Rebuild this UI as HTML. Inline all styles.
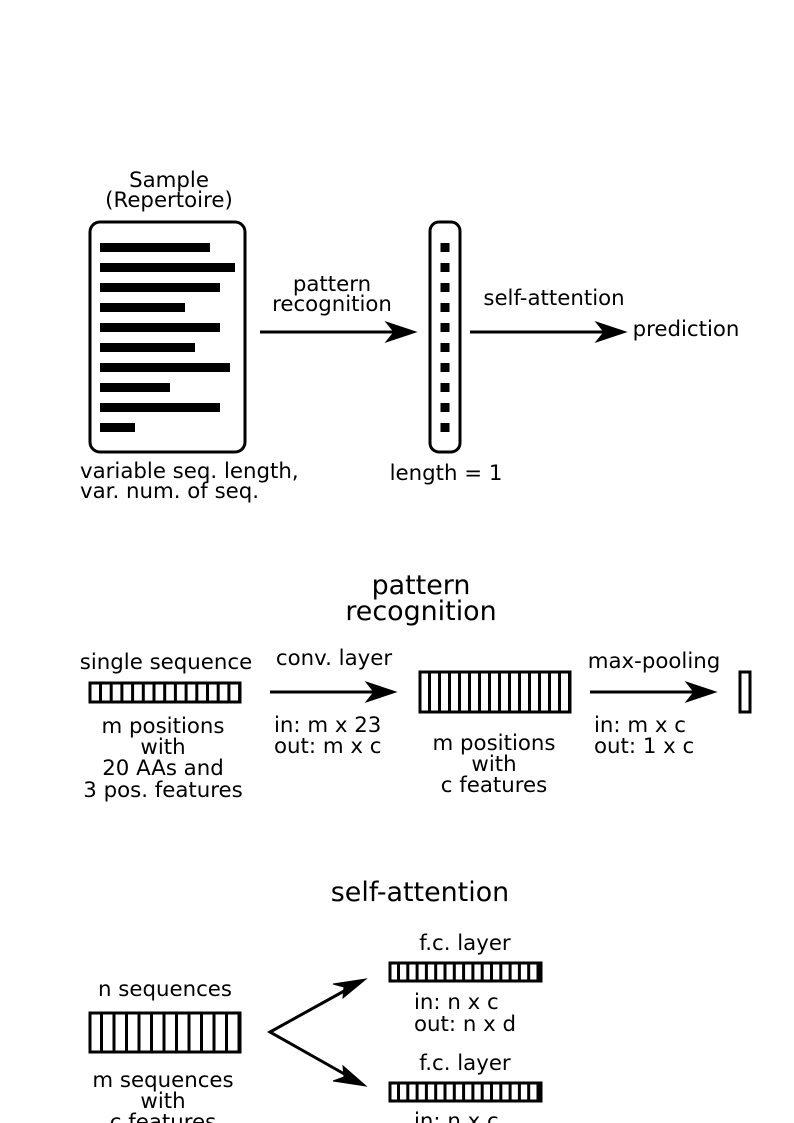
<!DOCTYPE html>
<html><head><style>body{margin:0;background:#fff}svg{display:block}text{font-family:"DejaVu Sans","Liberation Sans",sans-serif;fill:#000}</style></head>
<body>
<svg width="794" height="1123" viewBox="0 0 794 1123" xmlns="http://www.w3.org/2000/svg">
<g font-size="21.3" text-anchor="middle">
<text x="169" y="187">Sample</text>
<text x="169" y="207">(Repertoire)</text>
<text x="332" y="291">pattern</text>
<text x="332" y="311">recognition</text>
<text x="554" y="305">self-attention</text>
<text x="686" y="336">prediction</text>
<text x="446" y="480">length = 1</text>
</g>
<g font-size="21.3">
<text x="80" y="478">variable seq. length,</text>
<text x="80" y="498">var. num. of seq.</text>
</g>
<rect x="90" y="222" width="155" height="230" rx="10" fill="none" stroke="#000" stroke-width="3"/>
<g fill="#000">
<rect x="100" y="243" width="110" height="9"/>
<rect x="100" y="263" width="135" height="9"/>
<rect x="100" y="283" width="120" height="9"/>
<rect x="100" y="303" width="85" height="9"/>
<rect x="100" y="323" width="120" height="9"/>
<rect x="100" y="343" width="95" height="9"/>
<rect x="100" y="363" width="130" height="9"/>
<rect x="100" y="383" width="70" height="9"/>
<rect x="100" y="403" width="120" height="9"/>
<rect x="100" y="423" width="35" height="9"/>
</g>
<rect x="430" y="222" width="30" height="230" rx="9" fill="none" stroke="#000" stroke-width="3"/>
<line x1="445" y1="243" x2="445" y2="433" stroke="#000" stroke-width="9" stroke-dasharray="9 11"/>
<g stroke="#000" stroke-width="3" fill="#000">
<line x1="260" y1="332" x2="405" y2="332"/>
<path d="M416,332 L386,322 L394,332 L386,342 Z" stroke-width="1"/>
<line x1="470" y1="332" x2="615" y2="332"/>
<path d="M626,332 L596,322 L604,332 L596,342 Z" stroke-width="1"/>
</g>
<g font-size="26.9" text-anchor="middle">
<text x="421" y="594">pattern</text>
<text x="421" y="620">recognition</text>
<text x="420" y="901">self-attention</text>
</g>
<g font-size="21.3" text-anchor="middle">
<text x="166" y="669">single sequence</text>
<text x="334" y="665">conv. layer</text>
<text x="654" y="668">max-pooling</text>
<text x="163" y="733">m positions</text>
<text x="163" y="754">with</text>
<text x="163" y="775">20 AAs and</text>
<text x="163" y="797">3 pos. features</text>
<text x="494" y="750">m positions</text>
<text x="494" y="771">with</text>
<text x="494" y="792">c features</text>
<text x="165" y="996">n sequences</text>
<text x="163" y="1087">m sequences</text>
<text x="163" y="1108">with</text>
<text x="163" y="1129">c features</text>
<text x="465" y="950">f.c. layer</text>
<text x="465" y="1070">f.c. layer</text>
</g>
<g font-size="21.3">
<text x="414" y="1009">in: n x c</text>
<text x="414" y="1031">out: n x d</text>
<text x="414" y="1128">in: n x c</text>
<text x="274" y="732">in: m x 23</text>
<text x="274" y="753">out: m x c</text>
<text x="594" y="732">in: m x c</text>
<text x="594" y="753">out: 1 x c</text>
</g>
<g stroke="#000" fill="none">
<rect x="90" y="683" width="150" height="19" stroke-width="3"/>
<line x1="91" y1="692.5" x2="240" y2="692.5" stroke-width="19" stroke-dasharray="3 7.7" stroke-dashoffset="-8"/>
<rect x="420" y="672" width="150" height="40" stroke-width="3"/>
<line x1="421" y1="692" x2="570" y2="692" stroke-width="40" stroke-dasharray="3 7" stroke-dashoffset="-7"/>
<rect x="740" y="672" width="10" height="40" stroke-width="3"/>
<rect x="90" y="1013" width="150" height="39" stroke-width="3"/>
<line x1="91" y1="1032.5" x2="240" y2="1032.5" stroke-width="39" stroke-dasharray="3 9.5" stroke-dashoffset="-9"/>
<rect x="390" y="963" width="151" height="18" stroke-width="3"/>
<line x1="391" y1="972" x2="541" y2="972" stroke-width="18" stroke-dasharray="3 6.3" stroke-dashoffset="-6"/>
<rect x="390" y="1083" width="151" height="18" stroke-width="3"/>
<line x1="391" y1="1092" x2="541" y2="1092" stroke-width="18" stroke-dasharray="3 6.3" stroke-dashoffset="-6"/>
</g>
<g stroke="#000" stroke-width="3" fill="#000">
<line x1="270" y1="692" x2="385" y2="692"/>
<path d="M396,692 L366,682 L374,692 L366,702 Z" stroke-width="1"/>
<line x1="590" y1="692" x2="705" y2="692"/>
<path d="M716,692 L686,682 L694,692 L686,702 Z" stroke-width="1"/>
<polyline points="355,985 270,1032 355,1080" fill="none"/>
<path d="M366,979 L333,984 L344,987 L343,998 Z" stroke-width="1"/>
<path d="M366,1086 L343,1066 L344,1077 L333,1081 Z" stroke-width="1"/>
</g>
</svg>
</body></html>
